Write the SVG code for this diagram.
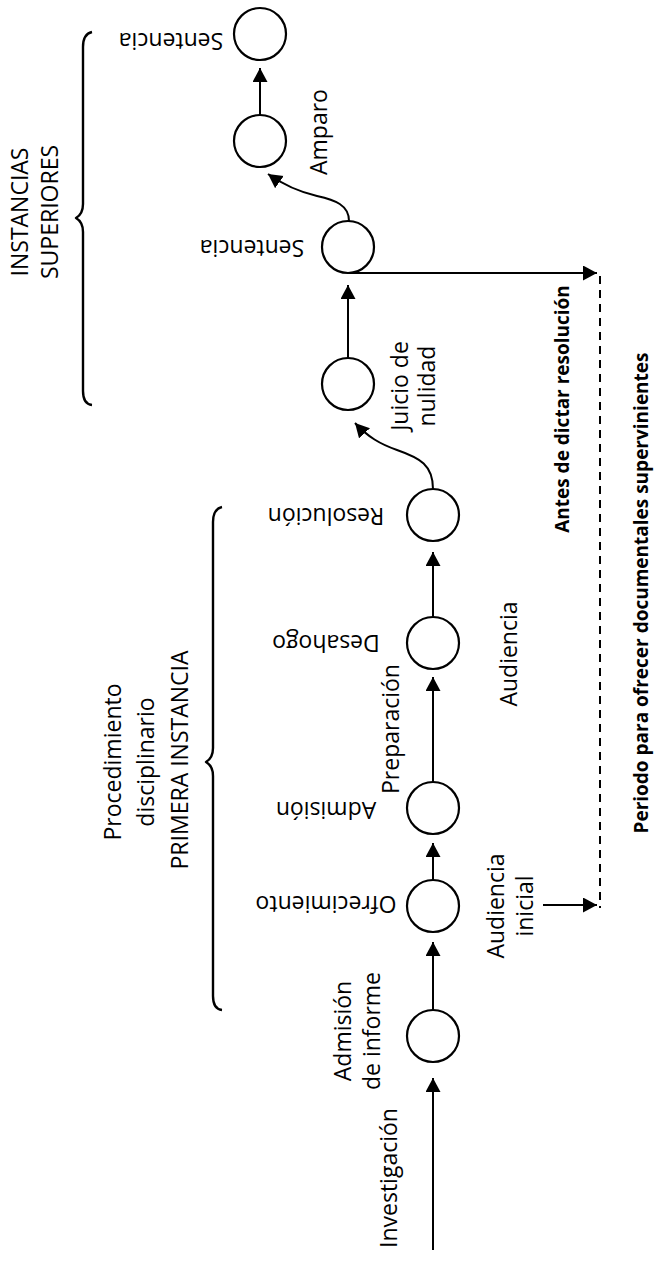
<svg xmlns="http://www.w3.org/2000/svg" width="654" height="1263" viewBox="0 0 654 1263">
  <defs>
    <marker id="arrow" markerUnits="userSpaceOnUse" markerWidth="15" markerHeight="16" refX="14" refY="7.5" orient="auto">
      <path d="M0,0 L14,7.5 L0,15 z" fill="#000"/>
    </marker>
    <style>
      .node { fill: #fff; stroke: #000; stroke-width: 2.2; }
      .edge { fill: none; stroke: #000; stroke-width: 2; marker-end: url(#arrow); }
      .dash { fill: none; stroke: #000; stroke-width: 2; stroke-dasharray: 8 6; }
      .brace { fill: none; stroke: #000; stroke-width: 2.4; stroke-linejoin: round; }
      .lbl { font-family: "Open Sans", "Noto Sans", sans-serif; font-size: 23px; fill: #000; text-anchor: middle; }
      .bold { font-family: "Open Sans", "Noto Sans", sans-serif; font-size: 19px; font-weight: bold; fill: #000; text-anchor: middle; }
    </style>
  </defs>

  <rect width="654" height="1263" fill="#fff"/>

  <!-- connectors -->
  <g id="connectors">
    <line class="edge" x1="433" y1="1250" x2="433" y2="1078"/>
    <line class="edge" x1="433" y1="1010" x2="433" y2="942"/>
    <line class="edge" x1="433" y1="880" x2="433" y2="843"/>
    <line class="edge" x1="433" y1="783" x2="433" y2="677"/>
    <line class="edge" x1="433" y1="617" x2="433" y2="552"/>
    <path class="edge" d="M433,489 C433,465 420,458 397,450 C380,444 368,437 355,423"/>
    <line class="edge" x1="348" y1="358" x2="348" y2="285"/>
    <path class="edge" d="M349,221 C349,205 335,200 317,196 C300,192 285,186 268,174"/>
    <line class="edge" x1="260" y1="115" x2="260" y2="68"/>
    <line class="edge" x1="348" y1="273" x2="597" y2="273"/>
    <line class="dash" x1="600" y1="276" x2="600" y2="908"/>
    <line class="edge" x1="543" y1="905" x2="597" y2="905"/>
  </g>

  <!-- primera instancia -->
  <g id="investigacion">
    <text class="lbl" transform="translate(389,1178) rotate(-90)" y="8">Investigación</text>
  </g>
  <g id="admision-informe">
    <ellipse class="node" cx="433" cy="1036" rx="26" ry="26"/>
    <text class="lbl" transform="translate(343,1031) rotate(-90)" y="8">Admisión</text>
    <text class="lbl" transform="translate(372,1031) rotate(-90)" y="8">de informe</text>
  </g>
  <g id="ofrecimiento">
    <ellipse class="node" cx="433" cy="906" rx="26" ry="26"/>
    <text class="lbl" transform="translate(326,904) rotate(180)" y="8">Ofrecimiento</text>
  </g>
  <g id="audiencia-inicial">
    <text class="lbl" transform="translate(496,906) rotate(-90)" y="8">Audiencia</text>
    <text class="lbl" transform="translate(525,906) rotate(-90)" y="8">inicial</text>
  </g>
  <g id="admision">
    <ellipse class="node" cx="433" cy="808" rx="26" ry="26"/>
    <text class="lbl" transform="translate(326,810) rotate(180)" y="8">Admisión</text>
  </g>
  <g id="preparacion">
    <text class="lbl" transform="translate(391,729) rotate(-90)" y="8">Preparación</text>
  </g>
  <g id="desahogo">
    <ellipse class="node" cx="433" cy="643" rx="26" ry="26"/>
    <text class="lbl" transform="translate(326,643) rotate(180)" y="8">Desahogo</text>
  </g>
  <g id="audiencia">
    <text class="lbl" transform="translate(509,654) rotate(-90)" y="8">Audiencia</text>
  </g>
  <g id="resolucion">
    <ellipse class="node" cx="433" cy="515" rx="26" ry="26"/>
    <text class="lbl" transform="translate(326,516) rotate(180)" y="8">Resolución</text>
  </g>
  <g id="primera-instancia">
    <path class="brace" d="M222,507 Q213,509 213,522 L213,748 Q213,758 206,762 Q213,766 213,776 L213,996 Q213,1009 222,1010"/>
    <text class="lbl" transform="translate(113,762) rotate(-90)" y="8">Procedimiento</text>
    <text class="lbl" transform="translate(146,762) rotate(-90)" y="8">disciplinario</text>
    <text class="lbl" transform="translate(180,760) rotate(-90)" y="8">PRIMERA INSTANCIA</text>
  </g>

  <!-- instancias superiores -->
  <g id="juicio-nulidad">
    <ellipse class="node" cx="348" cy="384" rx="26" ry="26"/>
    <text class="lbl" transform="translate(400,386) rotate(-90)" y="8">Juicio de</text>
    <text class="lbl" transform="translate(427,386) rotate(-90)" y="8">nulidad</text>
  </g>
  <g id="sentencia-1">
    <ellipse class="node" cx="348" cy="247" rx="26" ry="26"/>
    <text class="lbl" transform="translate(252,248) rotate(180)" y="8">Sentencia</text>
  </g>
  <g id="amparo">
    <ellipse class="node" cx="260" cy="141" rx="26" ry="26"/>
    <text class="lbl" transform="translate(319,132) rotate(-90)" y="8">Amparo</text>
  </g>
  <g id="sentencia-2">
    <ellipse class="node" cx="260" cy="34" rx="26" ry="26"/>
    <text class="lbl" transform="translate(171,41) rotate(180)" y="8">Sentencia</text>
  </g>
  <g id="instancias-superiores">
    <path class="brace" d="M92,32 Q83,34 83,47 L83,204 Q83,214 76,218 Q83,222 83,232 L83,391 Q83,404 92,405"/>
    <text class="lbl" transform="translate(20,212) rotate(-90)" y="8">INSTANCIAS</text>
    <text class="lbl" transform="translate(50,212) rotate(-90)" y="8">SUPERIORES</text>
  </g>

  <!-- periodo de pruebas -->
  <g id="antes-resolucion">
    <text class="bold" transform="translate(562,409) rotate(-90)" y="7">Antes de dictar resolución</text>
  </g>
  <g id="periodo">
    <text class="bold" transform="translate(641,593) rotate(-90)" y="7">Periodo para ofrecer documentales supervinientes</text>
  </g>
</svg>
